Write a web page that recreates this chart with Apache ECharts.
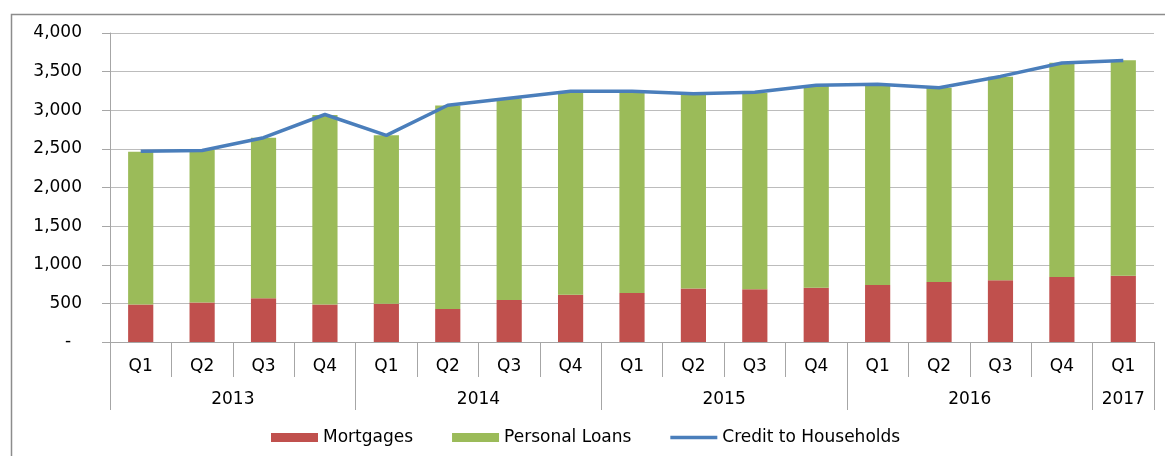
<!DOCTYPE html>
<html>
<head>
<meta charset="utf-8">
<title>Credit to Households</title>
<script src="https://cdn.jsdelivr.net/npm/echarts@6/dist/echarts.min.js"></script>
<style>
  html, body { margin: 0; padding: 0; background: #fff; }
  #chart { width: 1165px; height: 456px; }
</style>
</head>
<body>
<div id="chart"></div>
<script>
// values
const quarters = ['Q1', 'Q2', 'Q3', 'Q4', 'Q1', 'Q2', 'Q3', 'Q4', 'Q1', 'Q2', 'Q3', 'Q4', 'Q1', 'Q2', 'Q3', 'Q4', 'Q1'];
const years = ['2013', '2014', '2015', '2016', '2017'];
const quartersPerYear = [4, 4, 4, 4, 1];

const mortgages = [485, 510, 565, 485, 496, 428, 544, 613, 635, 691, 683, 703, 738, 777, 798, 841, 858];
const personalLoans = [1978, 1975, 2080, 2454, 2181, 2633, 2608, 2626, 2604, 2517, 2544, 2610, 2588, 2514, 2635, 2775, 2788];
const creditToHouseholds = [2470, 2480, 2645, 2945, 2675, 3065, 3155, 3245, 3245, 3212, 3232, 3325, 3335, 3292, 3438, 3612, 3645];

const FONT = 'DejaVu Sans';
const axisGray = '#a6a6a6';
const gridGray = '#bcbcbc';
const lineBlue = '#4a7ebb';

// index where each year starts, and where its label sits (middle of the group)
const yearStart = [];
const yearMid = {};
let acc = 0;
quartersPerYear.forEach((n, i) => {
  yearStart.push(acc);
  yearMid[acc + n / 2] = years[i];
  acc += n;
});

const chart = echarts.init(document.getElementById('chart'));

const option = {
  animation: false,
  textStyle: { fontFamily: FONT },
  graphic: [
    {
      type: 'rect',
      left: 9,
      top: 12,
      shape: { width: 1200, height: 500 },
      style: { fill: 'none', stroke: '#8c8c8c', lineWidth: 1.5 },
      silent: true,
    },
  ],
  legend: {
    left: 266,
    top: 424,
    itemWidth: 47,
    itemHeight: 9,
    itemGap: 39,
    icon: 'rect',
    textStyle: { fontFamily: FONT, fontSize: 17, color: '#000' },
    data: [
      'Mortgages',
      'Personal Loans',
      // plain line swatch, no marker
      { name: 'Credit to Households', icon: 'path://M0,0M0,2.8H47V6.2H0ZM47,9', itemStyle: { color: lineBlue } },
    ],
  },
  grid: {
    left: 110,
    right: 11,
    top: 33,
    bottom: 114,
  },
  xAxis: [
    {
      // quarter row
      type: 'category',
      data: quarters,
      position: 'bottom',
      axisLine: { show: true, lineStyle: { color: axisGray, width: 1 } },
      axisTick: { show: true, length: 35, interval: 0, lineStyle: { color: axisGray, width: 1 } },
      axisLabel: { interval: 0, margin: 16, fontFamily: FONT, fontSize: 17, color: '#000' },
    },
    {
      // year separators
      type: 'category',
      data: quarters,
      position: 'bottom',
      axisLine: { show: false },
      axisTick: {
        show: true,
        length: 68,
        interval: (index) => yearStart.indexOf(index) >= 0,
        lineStyle: { color: axisGray, width: 1 },
      },
      axisLabel: { show: false },
    },
    {
      // year labels
      type: 'value',
      position: 'bottom',
      min: 0,
      max: quarters.length,
      interval: 0.5,
      axisLine: { show: false },
      axisTick: { show: false },
      splitLine: { show: false },
      axisLabel: {
        margin: 49,
        fontFamily: FONT,
        fontSize: 17,
        color: '#000',
        showMinLabel: true,
        showMaxLabel: true,
        formatter: (v) => yearMid[v] || '',
      },
    },
  ],
  yAxis: {
    type: 'value',
    min: 0,
    max: 4000,
    interval: 500,
    axisLine: { show: true, lineStyle: { color: axisGray } },
    axisTick: { show: true, length: 8, lineStyle: { color: axisGray, width: 1 } },
    splitLine: { lineStyle: { color: gridGray, width: 1 } },
    axisLabel: {
      margin: 28,
      fontFamily: FONT,
      fontSize: 17,
      color: '#000',
      formatter: (v) => (v === 0 ? '-  ' : v.toLocaleString('en-US')),
    },
  },
  series: [
    {
      name: 'Mortgages',
      type: 'bar',
      stack: 'credit',
      barWidth: '41%',
      itemStyle: { color: '#c0504d' },
      data: mortgages,
    },
    {
      name: 'Personal Loans',
      type: 'bar',
      stack: 'credit',
      barWidth: '41%',
      itemStyle: { color: '#9bbb59' },
      data: personalLoans,
    },
    {
      name: 'Credit to Households',
      type: 'line',
      symbol: 'none',
      lineStyle: { color: lineBlue, width: 3.5 },
      itemStyle: { color: lineBlue },
      z: 5,
      data: creditToHouseholds,
    },
  ],
};

chart.setOption(option);
</script>
</body>
</html>
